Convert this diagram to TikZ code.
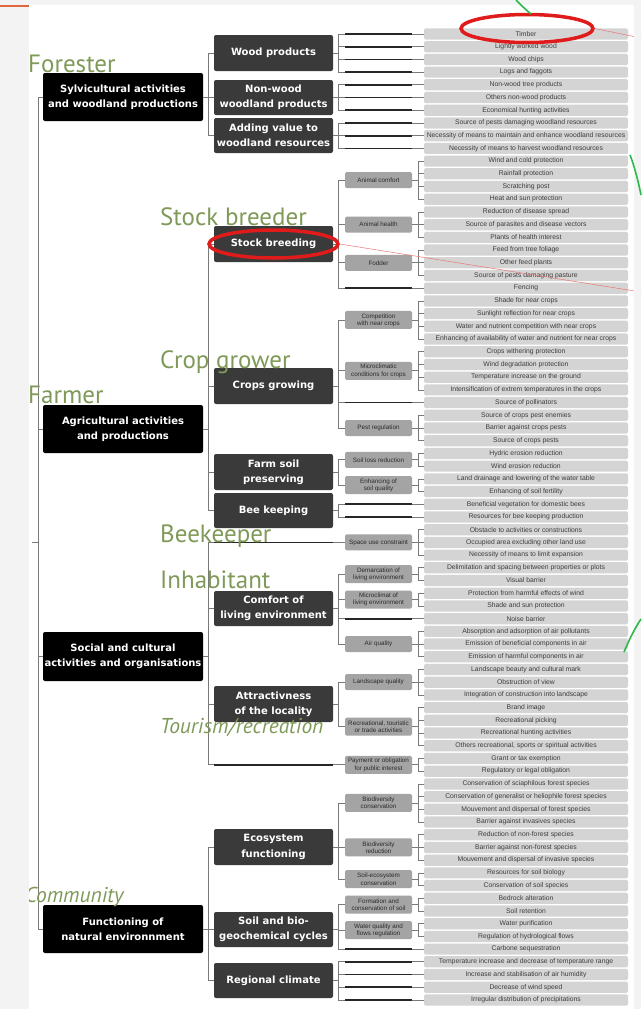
\documentclass[tikz,border=0pt]{standalone}
\usepackage{fontspec}
\setmainfont{Liberation Sans}
\newfontfamily\boxfont{DejaVu Sans}
\newfontfamily\rolefont{PT Sans}
\usetikzlibrary{shapes.geometric}
\definecolor{leafbox}{HTML}{D4D4D4}
\definecolor{midbox}{HTML}{A4A4A4}
\definecolor{dkbox}{HTML}{3A3A3A}
\definecolor{txtleaf}{HTML}{3C3C3C}
\definecolor{txtmid}{HTML}{2A2A2A}
\definecolor{lineg}{HTML}{7A7A7A}
\definecolor{rolegreen}{HTML}{7F9A58}
\definecolor{ringred}{HTML}{E01B1B}
\definecolor{stripgray}{HTML}{F3F3F3}
\definecolor{orangeline}{HTML}{E2673E}
\definecolor{arcgreen}{HTML}{2DB84B}
\tikzset{
 lvlone/.style={fill=black, rounded corners=2pt, text=white, font=\boxfont\bfseries\fontsize{10}{15.3}\selectfont, minimum width=160pt, minimum height=48pt, align=center, inner sep=0pt},
 lvltwo/.style={fill=dkbox, rounded corners=2pt, text=white, font=\boxfont\bfseries\fontsize{10}{15.3}\selectfont, minimum width=119pt, minimum height=35pt, align=center, inner sep=0pt},
 lvlthree/.style={fill=midbox, rounded corners=1.5pt, text=txtmid, font=\fontsize{6.3}{7.2}\selectfont, minimum width=67pt, minimum height=16pt, align=center, inner sep=0pt},
 tall/.style={minimum height=18pt},
 leaf/.style={fill=leafbox, rounded corners=1.5pt, text=txtleaf, font=\fontsize{6.8}{7.5}\selectfont, minimum width=204pt, minimum height=11.2pt, inner sep=0pt},
 conn/.style={draw=lineg, line width=0.7pt},
 thickc/.style={draw=black!85, line width=1.7pt},
 role/.style={text=rolegreen, font=\rolefont\fontsize{25}{25}\selectfont, anchor=base west, inner sep=0pt},
 roleit/.style={text=rolegreen, font=\rolefont\itshape\fontsize{21.5}{21.5}\selectfont, anchor=base west, inner sep=0pt},
 redring/.style={draw=ringred, line width=3.5pt, ellipse, inner sep=0pt},
 redthin/.style={draw=ringred!60, line width=0.5pt},
 greenarc/.style={draw=arcgreen, line width=1.6pt}
}
\newcommand\directleaf[1]{\draw[conn] (L#1.west -| X338) -- (L#1.west); \draw[thickc] (L#1.west -| X345) -- (L#1.west -| X412);}
\newcommand\leafbracket[3]{\draw[conn] (#1.east) -- (#1.east -| X418); \draw[conn] (L#2.west -| X418) -- (L#3.west -| X418); \foreach \k in {#2,...,#3}{\draw[conn] (L\k.west -| X418) -- (L\k.west);}}
\newcommand\directgroup[3]{\draw[conn] (#1.east) -- (#1.east -| X338); \draw[conn] (L#2.west -| X338) -- (L#3.west -| X338); \foreach \k in {#2,...,#3}{\directleaf{\k}}}
\newcommand\childlink[1]{\draw[conn] (#1.west -| X338) -- (#1.west);}
\newcommand\parentlink[1]{\draw[conn] (#1.west -| X208) -- (#1.west);}
\newcommand\ry[1]{34+(#1-1)*12.71}
\begin{document}
\begin{tikzpicture}[x=1pt,y=-1pt]
\useasboundingbox (0,0) rectangle (641,1009);
\fill[white] (0,0) rectangle (641,1009);
% column coordinates
\coordinate (X38) at (38,0);
\coordinate (X208) at (208,0);
\coordinate (X214) at (214,0);
\coordinate (X333) at (333,0);
\coordinate (X338) at (338,0);
\coordinate (X345) at (345,0);
\coordinate (X412) at (412,0);
\coordinate (X418) at (418,0);
% leaves
\foreach \i/\t in {1/Timber, 2/Lightly worked wood, 3/Wood chips, 4/Logs and faggots,
 5/Non-wood tree products, 6/Others non-wood products, 7/Economical hunting activities,
 8/Source of pests damaging woodland resources, 9/Necessity of means to maintain and enhance woodland resources, 10/Necessity of means to harvest woodland resources,
 11/Wind and cold protection, 12/Rainfall protection, 13/Scratching post, 14/Heat and sun protection,
 15/Reduction of disease spread, 16/Source of parasites and disease vectors, 17/Plants of health interest,
 18/Feed from tree foliage, 19/Other feed plants, 20/Source of pests damaging pasture, 21/Fencing,
 22/Shade for near crops, 23/Sunlight reflection for near crops, 24/Water and nutrient competition with near crops, 25/Enhancing of availability of water and nutrient for near crops,
 26/Crops withering protection, 27/Wind degradation protection, 28/Temperature increase on the ground, 29/Intensification of extrem temperatures in the crops,
 30/Source of pollinators, 31/Source of crops pest enemies, 32/Barrier against crops pests, 33/Source of crops pests,
 34/Hydric erosion reduction, 35/Wind erosion reduction, 36/Land drainage and lowering of the water table, 37/Enhancing of soil fertility,
 38/Beneficial vegetation for domestic bees, 39/Resources for bee keeping production,
 40/Obstacle to activities or constructions, 41/Occupied area excluding other land use, 42/Necessity of means to limit expansion,
 43/Delimitation and spacing between properties or plots, 44/Visual barrier, 45/Protection from harmful effects of wind, 46/Shade and sun protection,
 47/Noise barrier, 48/Absorption and adsorption of air pollutants, 49/Emission of beneficial components in air, 50/Emission of harmful components in air,
 51/Landscape beauty and cultural mark, 52/Obstruction of view, 53/Integration of construction into landscape,
 54/Brand image, 55/Recreational picking, 56/Recreational hunting activities, 57/{Others recreational, sports or spiritual activities},
 58/Grant or tax exemption, 59/Regulatory or legal obligation,
 60/Conservation of sciaphilous forest species, 61/Conservation of generalist or heliophile forest species, 62/Mouvement and dispersal of forest species, 63/Barrier against invasives species,
 64/Reduction of non-forest species, 65/Barrier against non-forest species, 66/Mouvement and dispersal of invasive species,
 67/Resources for soil biology, 68/Conservation of soil species,
 69/Bedrock alteration, 70/Soil retention, 71/Water purification, 72/Regulation of hydrological flows, 73/Carbone sequestration,
 74/Temperature increase and decrease of temperature range, 75/Increase and stabilisation of air humidity, 76/Decrease of wind speed, 77/Irregular distribution of precipitations}
 \node[leaf] (L\i) at (526,{\ry{\i}}) {\t};
% level 3
\node[lvlthree] (A1) at (378.5,{\ry{12.5}}) {Animal comfort};
\node[lvlthree] (A2) at (378.5,{\ry{16}}) {Animal health};
\node[lvlthree] (A3) at (378.5,{\ry{19}}) {Fodder};
\node[lvlthree,tall] (C1) at (378.5,{\ry{23.5}}) {Competition\\with near crops};
\node[lvlthree,tall] (C2) at (378.5,{\ry{27.5}}) {Microclimatic\\conditions for crops};
\node[lvlthree] (C3) at (378.5,{\ry{32}}) {Pest regulation};
\node[lvlthree] (F1) at (378.5,{\ry{34.5}}) {Soil loss reduction};
\node[lvlthree,tall] (F2) at (378.5,{\ry{36.5}}) {Enhancing of\\soil quality};
\node[lvlthree] (S0) at (378.5,{\ry{41}}) {Space use constraint};
\node[lvlthree,tall] (D1) at (378.5,{\ry{43.5}}) {Demarcation of\\living environment};
\node[lvlthree,tall] (D2) at (378.5,{\ry{45.5}}) {Microclimat of\\living environment};
\node[lvlthree] (D3) at (378.5,{\ry{49}}) {Air quality};
\node[lvlthree] (T1) at (378.5,{\ry{52}}) {Landscape quality};
\node[lvlthree,tall] (T2) at (378.5,{\ry{55.5}}) {Recreational, touristic\\or trade activities};
\node[lvlthree,tall] (P0) at (378.5,{\ry{58.5}}) {Payment or obligation\\for public interest};
\node[lvlthree,tall] (E1) at (378.5,{\ry{61.5}}) {Biodiversity\\conservation};
\node[lvlthree,tall] (E2) at (378.5,{\ry{65}}) {Biodiversity\\reduction};
\node[lvlthree,tall] (E3) at (378.5,{\ry{67.5}}) {Soil-ecosystem\\conservation};
\node[lvlthree,tall] (G1) at (378.5,{\ry{69.5}}) {Formation and\\conservation of soil};
\node[lvlthree,tall] (G2) at (378.5,{\ry{71.5}}) {Water quality and\\flows regulation};
% level 2
\node[lvltwo,minimum height=36pt] (W1) at (273.5,53) {Wood products};
\node[lvltwo] (W2) at (273.5,97.5) {Non-wood\\woodland products};
\node[lvltwo] (W3) at (273.5,135.5) {Adding value to\\woodland resources};
\node[lvltwo,minimum height=36pt] (B1) at (273.5,244) {Stock breeding};
\node[lvltwo,minimum height=36pt] (B2) at (273.5,386) {Crops growing};
\node[lvltwo,minimum height=36pt] (B3) at (273.5,472) {Farm soil\\preserving};
\node[lvltwo] (B4) at (273.5,510.5) {Bee keeping};
\node[lvltwo] (H1) at (273.5,608.5) {Comfort of\\living environment};
\node[lvltwo,minimum height=36pt] (H2) at (273.5,704) {Attractivness\\of the locality};
\node[lvltwo,minimum height=36pt] (N1) at (273.5,847) {Ecosystem\\functioning};
\node[lvltwo] (N2) at (273.5,929.5) {Soil and bio-\\geochemical cycles};
\node[lvltwo] (N3) at (273.5,980.5) {Regional climate};
% level 1
\node[lvlone] (S1) at (123,97) {Sylvicultural activities\\and woodland productions};
\node[lvlone] (S2) at (123,429) {Agricultural activities\\and productions};
\node[lvlone,minimum height=49pt] (S3) at (123,656.5) {Social and cultural\\activities and organisations};
\node[lvlone] (S4) at (123,929) {Functioning of\\natural environnment};
% trunk
\coordinate (rootstub) at (32,542);
\draw[conn] (S1.west -| X38) -- (S4.west -| X38);
\draw[conn] (rootstub) -- (rootstub -| X38);
\foreach \n in {S1,S2,S3,S4} \draw[conn] (\n.west -| X38) -- (\n.west);
% level-1 groups
\draw[conn] (S1.east) -- (S1.east -| X208);
\draw[conn] (W1.west -| X208) -- (W3.west -| X208);
\foreach \n in {W1,W2,W3} \parentlink{\n};
\draw[conn] (S2.east) -- (S2.east -| X208);
\draw[conn] (B1.west -| X208) -- (B4.west -| X208);
\foreach \n in {B1,B2,B3,B4} \parentlink{\n};
\draw[conn] (S3.east) -- (S3.east -| X208);
\draw[conn] (S0.west -| X208) -- (P0.west -| X208);
\foreach \n in {H1,H2} \parentlink{\n};
\draw[conn] (S0.west -| X208) -- (S0.west);
\draw[thickc] (S0.west -| X214) -- (S0.west -| X333);
\draw[conn] (P0.west -| X208) -- (P0.west);
\draw[thickc] (P0.west -| X214) -- (P0.west -| X333);
\draw[conn] (S4.east) -- (S4.east -| X208);
\draw[conn] (N1.west -| X208) -- (N3.west -| X208);
\foreach \n in {N1,N2,N3} \parentlink{\n};
% level-2 groups
\directgroup{W1}{1}{4}
\directgroup{W2}{5}{7}
\directgroup{W3}{8}{10}
\draw[conn] (B1.east) -- (B1.east -| X338);
\draw[conn] (A1.west -| X338) -- (L21.west -| X338);
\foreach \n in {A1,A2,A3} \childlink{\n};
\directleaf{21}
\draw[conn] (B2.east) -- (B2.east -| X338);
\draw[conn] (C1.west -| X338) -- (C3.west -| X338);
\foreach \n in {C1,C2,C3} \childlink{\n};
\directleaf{30}
\draw[conn] (B3.east) -- (B3.east -| X338);
\draw[conn] (F1.west -| X338) -- (F2.west -| X338);
\foreach \n in {F1,F2} \childlink{\n};
\directgroup{B4}{38}{39}
\draw[conn] (H1.east) -- (H1.east -| X338);
\draw[conn] (D1.west -| X338) -- (D3.west -| X338);
\foreach \n in {D1,D2,D3} \childlink{\n};
\directleaf{47}
\draw[conn] (H2.east) -- (H2.east -| X338);
\draw[conn] (T1.west -| X338) -- (T2.west -| X338);
\foreach \n in {T1,T2} \childlink{\n};
\draw[conn] (N1.east) -- (N1.east -| X338);
\draw[conn] (E1.west -| X338) -- (E3.west -| X338);
\foreach \n in {E1,E2,E3} \childlink{\n};
\draw[conn] (N2.east) -- (N2.east -| X338);
\draw[conn] (G1.west -| X338) -- (L73.west -| X338);
\foreach \n in {G1,G2} \childlink{\n};
\directleaf{73}
\directgroup{N3}{74}{77}
% level-3 brackets
\leafbracket{A1}{11}{14}
\leafbracket{A2}{15}{17}
\leafbracket{A3}{18}{20}
\leafbracket{C1}{22}{25}
\leafbracket{C2}{26}{29}
\leafbracket{C3}{31}{33}
\leafbracket{F1}{34}{35}
\leafbracket{F2}{36}{37}
\leafbracket{S0}{40}{42}
\leafbracket{D1}{43}{44}
\leafbracket{D2}{45}{46}
\leafbracket{D3}{48}{50}
\leafbracket{T1}{51}{53}
\leafbracket{T2}{54}{57}
\leafbracket{P0}{58}{59}
\leafbracket{E1}{60}{63}
\leafbracket{E2}{64}{66}
\leafbracket{E3}{67}{68}
\leafbracket{G1}{69}{70}
\leafbracket{G2}{71}{72}
% role labels
\node[role] (rForester) at (28,72) {Forester};
\node[role] (rStock) at (160,225) {Stock breeder};
\node[role] (rCrop) at (160,368) {Crop grower};
\node[role] (rFarmer) at (28,403) {Farmer};
\node[role] (rBee) at (160,542) {Beekeeper};
\node[role] (rInhab) at (160,588) {Inhabitant};
\node[roleit] (rTour) at (160,733) {Tourism/recreation};
\node[roleit] (rComm) at (25,902) {Community};
% red highlights
\node[redring, minimum width=132pt, minimum height=28pt] (ring1) at (527,28.5) {};
\node[redring, minimum width=129pt, minimum height=28pt] (ring2) at (273.5,244) {};
\coordinate (ring1end) at (641,38);
\coordinate (ring2end) at (641,292);
\draw[redthin] (ring1.east) -- (ring1end);
\draw[redthin] (ring2.east) -- (ring2end);
% page frame strips
\fill[stripgray] (0,0) rectangle (29,1009);
\fill[stripgray] (0,0) rectangle (641,5);
\fill[stripgray] (634,5) rectangle (641,1009);
\fill[orangeline] (0,4.5) rectangle (29,6.5);
% green arcs
\draw[greenarc] (516,0) .. controls (521,5) and (525,9) .. (531,14);
\draw[greenarc] (630,155) .. controls (634,165) and (638,180) .. (641,195);
\draw[greenarc] (624,652) .. controls (629,640) and (635,628) .. (641,619);
\end{tikzpicture}
\end{document}
